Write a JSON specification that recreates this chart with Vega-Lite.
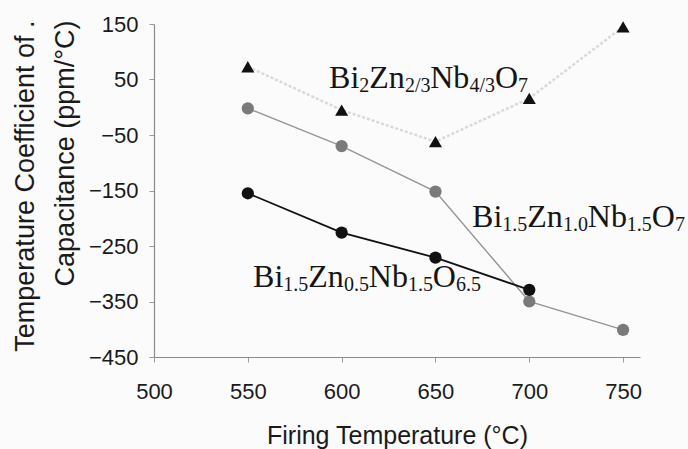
{
  "$schema": "https://vega.github.io/schema/vega-lite/v6.json",
  "width": 486,
  "height": 333,
  "autosize": {"type": "none"},
  "padding": {"left": 154, "top": 24, "right": 48, "bottom": 92},
  "background": "#fbfbfb",
  "config": {"view": {"stroke": null}, "font": "Liberation Sans"},
  "datasets": {
    "tcc": [
      {"series": "Bi2Zn2/3Nb4/3O7", "temp": 550, "tcc": 73},
      {"series": "Bi2Zn2/3Nb4/3O7", "temp": 600, "tcc": -5},
      {"series": "Bi2Zn2/3Nb4/3O7", "temp": 650, "tcc": -62},
      {"series": "Bi2Zn2/3Nb4/3O7", "temp": 700, "tcc": 16},
      {"series": "Bi2Zn2/3Nb4/3O7", "temp": 750, "tcc": 145},
      {"series": "Bi1.5Zn1.0Nb1.5O7", "temp": 550, "tcc": -2},
      {"series": "Bi1.5Zn1.0Nb1.5O7", "temp": 600, "tcc": -70},
      {"series": "Bi1.5Zn1.0Nb1.5O7", "temp": 650, "tcc": -152},
      {"series": "Bi1.5Zn1.0Nb1.5O7", "temp": 700, "tcc": -350},
      {"series": "Bi1.5Zn1.0Nb1.5O7", "temp": 750, "tcc": -401},
      {"series": "Bi1.5Zn0.5Nb1.5O6.5", "temp": 550, "tcc": -155},
      {"series": "Bi1.5Zn0.5Nb1.5O6.5", "temp": 600, "tcc": -226},
      {"series": "Bi1.5Zn0.5Nb1.5O6.5", "temp": 650, "tcc": -271},
      {"series": "Bi1.5Zn0.5Nb1.5O6.5", "temp": 700, "tcc": -329}
    ],
    "formulas": [
      {"formula": "Bi2Zn2/3Nb4/3O7", "part": "Bi", "kind": "main", "temp": 593.3, "tcc": 34.7},
      {"formula": "Bi2Zn2/3Nb4/3O7", "part": "2", "kind": "sub", "temp": 609.4, "tcc": 27.5},
      {"formula": "Bi2Zn2/3Nb4/3O7", "part": "Zn", "kind": "main", "temp": 614.7, "tcc": 34.7},
      {"formula": "Bi2Zn2/3Nb4/3O7", "part": "2/3", "kind": "sub", "temp": 633.7, "tcc": 27.5},
      {"formula": "Bi2Zn2/3Nb4/3O7", "part": "Nb", "kind": "main", "temp": 647.2, "tcc": 34.7},
      {"formula": "Bi2Zn2/3Nb4/3O7", "part": "4/3", "kind": "sub", "temp": 668.1, "tcc": 27.5},
      {"formula": "Bi2Zn2/3Nb4/3O7", "part": "O", "kind": "main", "temp": 681.7, "tcc": 34.7},
      {"formula": "Bi2Zn2/3Nb4/3O7", "part": "7", "kind": "sub", "temp": 694.0, "tcc": 27.5},
      {"formula": "Bi1.5Zn1.0Nb1.5O7", "part": "Bi", "kind": "main", "temp": 669.5, "tcc": -215.8},
      {"formula": "Bi1.5Zn1.0Nb1.5O7", "part": "1.5", "kind": "sub", "temp": 685.6, "tcc": -223},
      {"formula": "Bi1.5Zn1.0Nb1.5O7", "part": "Zn", "kind": "main", "temp": 698.9, "tcc": -215.8},
      {"formula": "Bi1.5Zn1.0Nb1.5O7", "part": "1.0", "kind": "sub", "temp": 717.9, "tcc": -223},
      {"formula": "Bi1.5Zn1.0Nb1.5O7", "part": "Nb", "kind": "main", "temp": 731.2, "tcc": -215.8},
      {"formula": "Bi1.5Zn1.0Nb1.5O7", "part": "1.5", "kind": "sub", "temp": 752.0, "tcc": -223},
      {"formula": "Bi1.5Zn1.0Nb1.5O7", "part": "O", "kind": "main", "temp": 765.3, "tcc": -215.8},
      {"formula": "Bi1.5Zn1.0Nb1.5O7", "part": "7", "kind": "sub", "temp": 777.7, "tcc": -223},
      {"formula": "Bi1.5Zn0.5Nb1.5O6.5", "part": "Bi", "kind": "main", "temp": 552.8, "tcc": -323.9},
      {"formula": "Bi1.5Zn0.5Nb1.5O6.5", "part": "1.5", "kind": "sub", "temp": 568.9, "tcc": -331},
      {"formula": "Bi1.5Zn0.5Nb1.5O6.5", "part": "Zn", "kind": "main", "temp": 582.2, "tcc": -323.9},
      {"formula": "Bi1.5Zn0.5Nb1.5O6.5", "part": "0.5", "kind": "sub", "temp": 601.2, "tcc": -331},
      {"formula": "Bi1.5Zn0.5Nb1.5O6.5", "part": "Nb", "kind": "main", "temp": 614.5, "tcc": -323.9},
      {"formula": "Bi1.5Zn0.5Nb1.5O6.5", "part": "1.5", "kind": "sub", "temp": 635.3, "tcc": -331},
      {"formula": "Bi1.5Zn0.5Nb1.5O6.5", "part": "O", "kind": "main", "temp": 648.6, "tcc": -323.9},
      {"formula": "Bi1.5Zn0.5Nb1.5O6.5", "part": "6.5", "kind": "sub", "temp": 661.0, "tcc": -331}
    ]
  },
  "encoding": {
    "x": {
      "field": "temp",
      "type": "quantitative",
      "scale": {"domain": [500, 759], "nice": false, "zero": false},
      "axis": {
        "values": [500, 550, 600, 650, 700, 750],
        "grid": false,
        "title": "Firing Temperature (°C)",
        "titleFont": "Liberation Sans",
        "titleFontSize": 25,
        "titleFontWeight": "normal",
        "titleColor": "#1a1a1a",
        "titleX": 243,
        "titleY": 86,
        "titleAlign": "center",
        "titleBaseline": "alphabetic",
        "labelFont": "Liberation Sans",
        "labelFontSize": 22,
        "labelColor": "#1a1a1a",
        "labelPadding": 19,
        "labelFlush": false,
        "labelOverlap": false,
        "tickSize": 5,
        "tickColor": "#9a9a9a",
        "domainColor": "#8a8a8a",
        "domainWidth": 1.2
      }
    },
    "y": {
      "field": "tcc",
      "type": "quantitative",
      "scale": {"domain": [-450, 150], "nice": false, "zero": false},
      "axis": {
        "values": [-450, -350, -250, -150, -50, 50, 150],
        "grid": false,
        "title": ["Temperature Coefficient of .", "Capacitance (ppm/°C)"],
        "titleFont": "Liberation Sans",
        "titleFontSize": 27,
        "titleFontWeight": "normal",
        "titleColor": "#1a1a1a",
        "titleAngle": 270,
        "titleAlign": "right",
        "titleBaseline": "alphabetic",
        "titleLineHeight": 40,
        "titleX": -121,
        "titleY": -4,
        "labelFont": "Liberation Sans",
        "labelFontSize": 22,
        "labelColor": "#1a1a1a",
        "labelPadding": 11,
        "labelFlush": false,
        "labelOverlap": false,
        "tickSize": 5,
        "tickColor": "#9a9a9a",
        "domainColor": "#8a8a8a",
        "domainWidth": 1.2
      }
    }
  },
  "layer": [
    {
      "data": {"name": "tcc"},
      "transform": [{"filter": "datum.series === 'Bi2Zn2/3Nb4/3O7'"}],
      "mark": {"type": "line", "color": "#d9d9d9", "strokeWidth": 2.5, "strokeDash": [3, 2]},
      "encoding": {}
    },
    {
      "data": {"name": "tcc"},
      "transform": [{"filter": "datum.series === 'Bi1.5Zn1.0Nb1.5O7'"}],
      "mark": {"type": "line", "color": "#959595", "strokeWidth": 1.4},
      "encoding": {}
    },
    {
      "data": {"name": "tcc"},
      "transform": [{"filter": "datum.series === 'Bi1.5Zn0.5Nb1.5O6.5'"}],
      "mark": {"type": "line", "color": "#111111", "strokeWidth": 1.8},
      "encoding": {}
    },
    {
      "data": {"name": "tcc"},
      "transform": [{"filter": "datum.series === 'Bi1.5Zn1.0Nb1.5O7'"}],
      "mark": {"type": "point", "shape": "circle", "filled": true, "color": "#7a7a7a", "opacity": 1, "size": 150},
      "encoding": {}
    },
    {
      "data": {"name": "tcc"},
      "transform": [{"filter": "datum.series === 'Bi1.5Zn0.5Nb1.5O6.5'"}],
      "mark": {"type": "point", "shape": "circle", "filled": true, "color": "#111111", "opacity": 1, "size": 150},
      "encoding": {}
    },
    {
      "data": {"name": "tcc"},
      "transform": [{"filter": "datum.series === 'Bi2Zn2/3Nb4/3O7'"}],
      "mark": {"type": "point", "shape": "triangle-up", "filled": true, "color": "#111111", "opacity": 1, "size": 170},
      "encoding": {}
    },
    {
      "data": {"name": "formulas"},
      "mark": {"type": "text", "font": "Liberation Serif", "align": "left", "baseline": "alphabetic", "color": "#151515"},
      "encoding": {
        "text": {"field": "part", "type": "nominal"},
        "size": {
          "field": "kind",
          "type": "nominal",
          "scale": {"domain": ["main", "sub"], "range": [32, 20]},
          "legend": null
        }
      }
    }
  ]
}
